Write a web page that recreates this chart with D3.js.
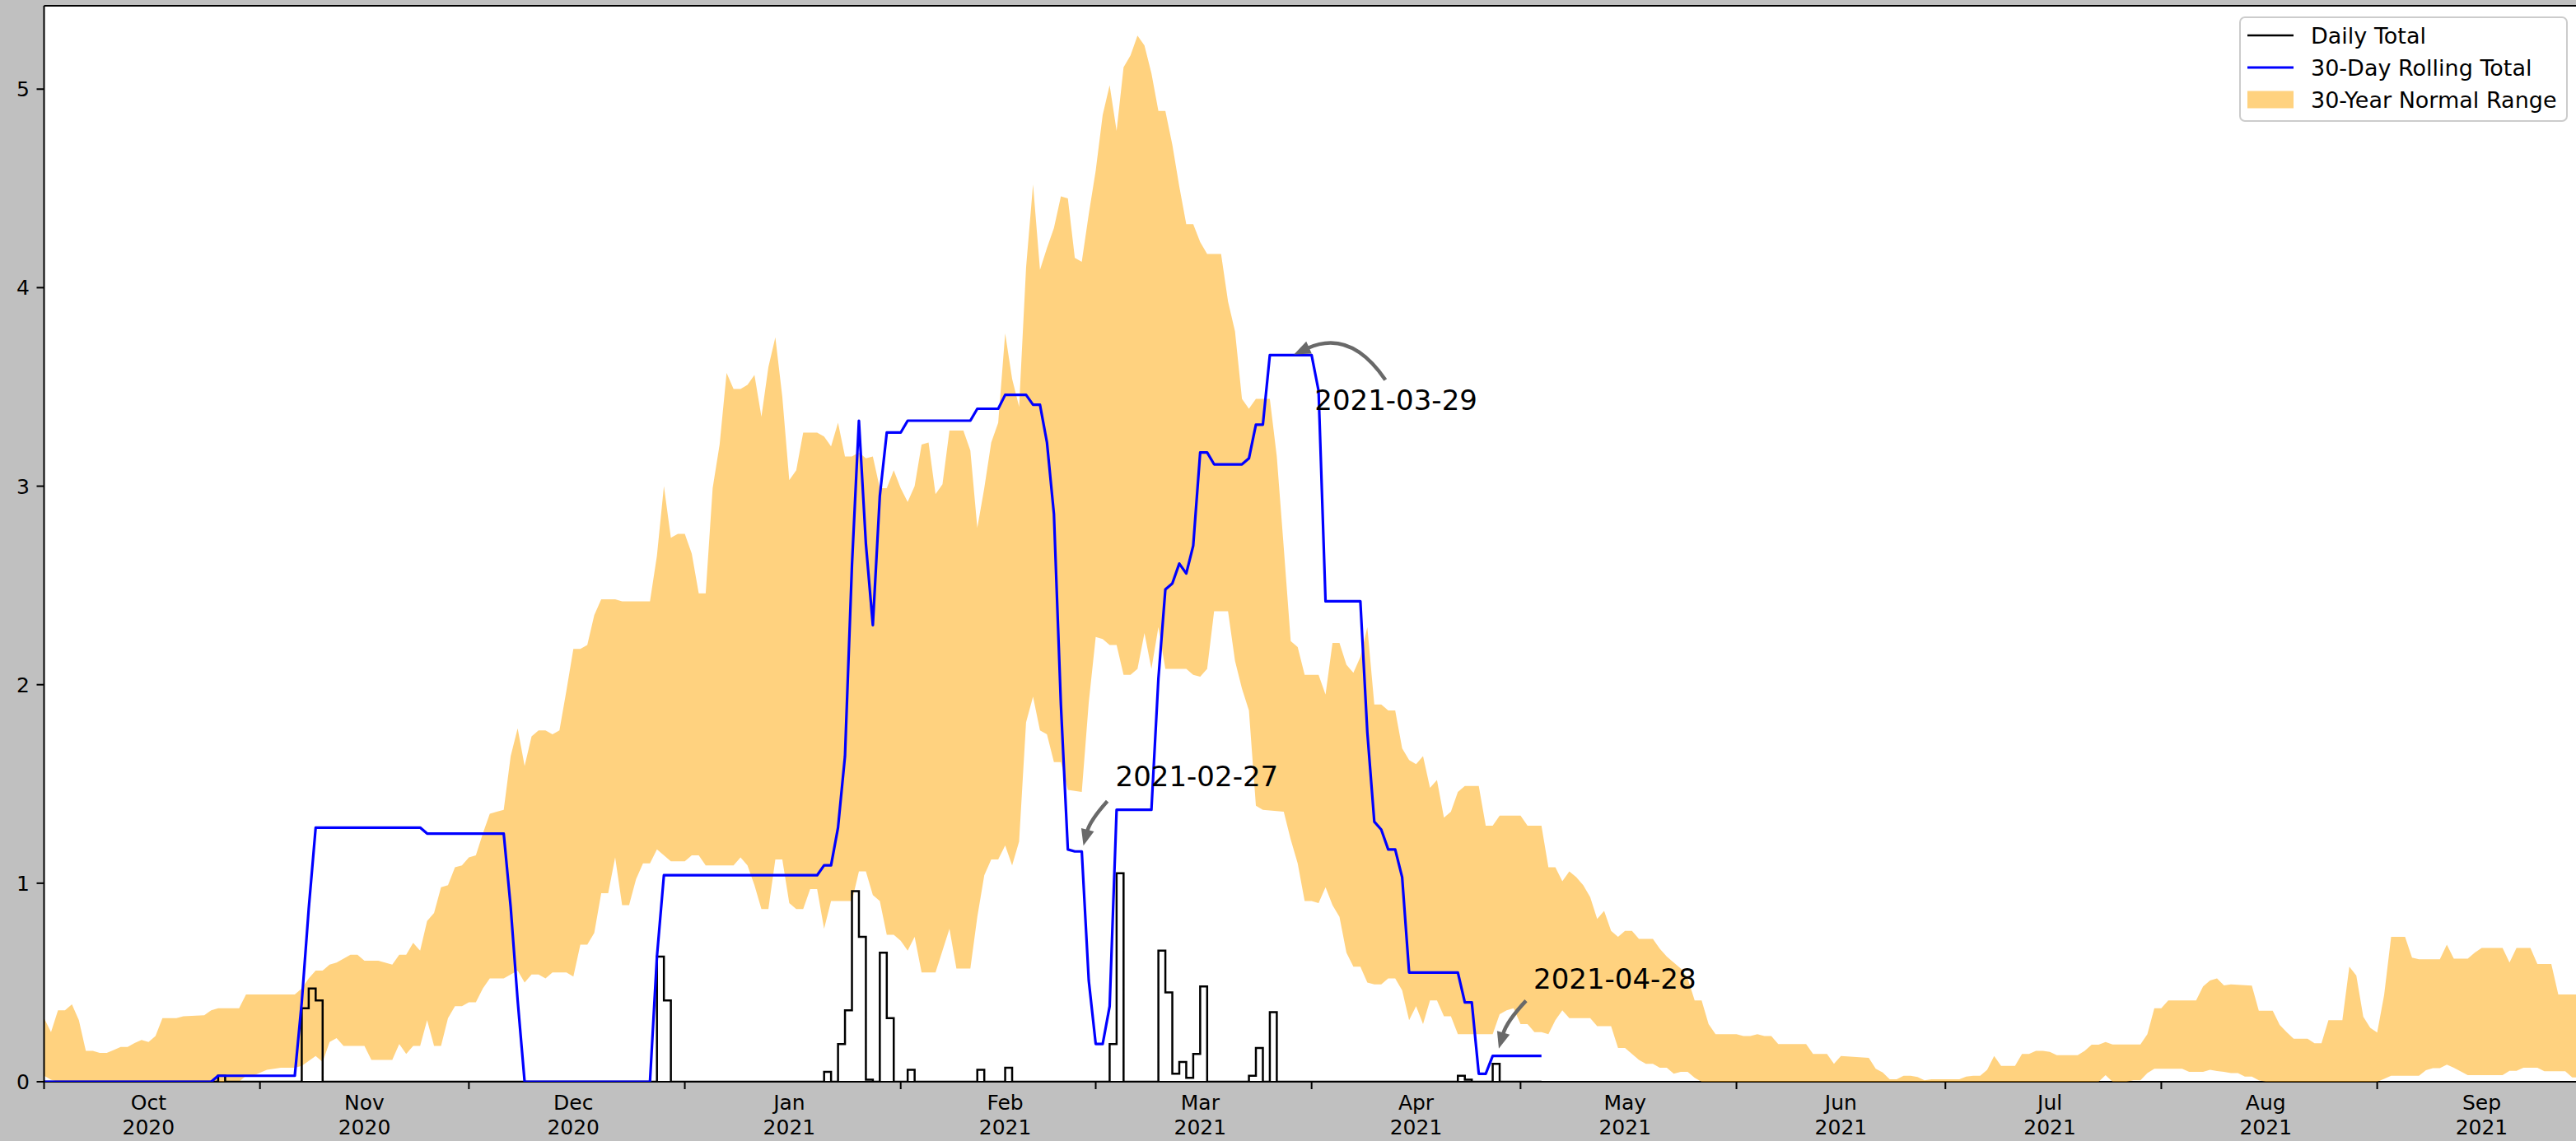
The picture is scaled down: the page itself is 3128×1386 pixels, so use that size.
<!DOCTYPE html>
<html><head><meta charset="utf-8">
<script src="https://cdn.jsdelivr.net/npm/d3@7"></script>
<style>html,body{margin:0;padding:0;background:#c0c0c0;overflow:hidden}</style>
</head><body>
<svg id="chart" width="3128" height="1386"></svg>
<script>
// ---------------- DATA ----------------
const startDate = "2020-10-01";           // day index 0
const endDate = "2021-10-01";
const monthTicks = ["2020-10-01","2020-11-01","2020-12-01","2021-01-01","2021-02-01","2021-03-01",
  "2021-04-01","2021-05-01","2021-06-01","2021-07-01","2021-08-01","2021-09-01","2021-10-01"];
const monthNames = ["Oct","Nov","Dec","Jan","Feb","Mar","Apr","May","Jun","Jul","Aug","Sep"];
const monthYears = ["2020","2020","2020","2021","2021","2021","2021","2021","2021","2021","2021","2021"];
const yTicks = [0,1,2,3,4,5];

// 30-year normal range, upper edge (day index, inches)
const upperDay = [0,1,2,3,4,5,6,7,8,9,10,11,12,13,14,15,16,17,19,20,23,24,25,28,29,36,37,38,39,40,41,42,44,45,46,48,50,51,52,53,54,55,56,57,58,59,60,61,62,63,64,65,66,67,68,69,70,71,72,73,74,75,76,77,78,79,80,82,83,87,88,89,90,91,92,93,94,95,96,97,98,99,100,101,102,103,104,105,106,107,108,109,111,112,113,114,115,116,117,118,119,120,121,122,123,124,125,126,127,128,129,130,132,133,134,135,136,137,138,139,140,141,142,143,144,145,146,147,148,149,150,151,152,153,154,155,156,157,158,159,160,161,162,163,164,165,166,167,169,170,171,172,173,174,176,177,178,179,180,181,183,184,185,186,187,188,189,190,191,192,193,194,195,196,197,198,199,200,201,202,203,204,206,207,208,209,212,213,215,216,217,218,219,220,221,222,223,224,225,226,227,228,229,231,232,233,234,235,236,237,238,239,240,243,244,245,246,247,248,249,253,254,256,257,258,262,263,264,265,266,267,268,269,270,271,275,276,277,278,279,280,281,283,284,285,286,287,288,289,292,293,294,295,296,297,301,302,303,304,305,309,310,311,312,313,314,317,318,320,321,322,323,325,326,327,328,330,331,332,333,334,335,336,337,339,340,341,344,345,346,348,349,350,353,354,355,357,358,360,361,364];
const upperValue = [0.32,0.25,0.36,0.36,0.39,0.31,0.155,0.155,0.145,0.145,0.16,0.175,0.175,0.195,0.21,0.20,0.23,0.32,0.32,0.33,0.335,0.36,0.37,0.37,0.44,0.44,0.47,0.52,0.56,0.56,0.59,0.60,0.64,0.64,0.61,0.61,0.59,0.64,0.64,0.70,0.66,0.81,0.85,0.98,0.99,1.08,1.09,1.13,1.14,1.25,1.35,1.36,1.37,1.64,1.78,1.59,1.74,1.77,1.77,1.75,1.77,1.97,2.18,2.18,2.20,2.35,2.43,2.43,2.42,2.42,2.65,3.00,2.74,2.76,2.76,2.66,2.46,2.46,2.99,3.21,3.57,3.49,3.49,3.51,3.56,3.35,3.60,3.75,3.45,3.03,3.08,3.27,3.27,3.25,3.20,3.32,3.15,3.15,3.17,3.14,3.15,2.99,2.99,3.08,2.99,2.92,3.00,3.21,3.22,2.96,3.01,3.28,3.28,3.18,2.79,2.99,3.22,3.32,3.77,3.54,3.40,4.10,4.52,4.09,4.20,4.30,4.46,4.45,4.15,4.13,4.37,4.59,4.87,5.02,4.79,5.11,5.17,5.27,5.22,5.08,4.89,4.89,4.72,4.51,4.32,4.32,4.23,4.17,4.17,3.93,3.78,3.44,3.39,3.44,3.44,3.15,2.69,2.22,2.19,2.05,2.05,1.95,2.21,2.21,2.10,2.06,2.14,2.29,1.90,1.90,1.87,1.87,1.68,1.62,1.60,1.64,1.48,1.52,1.33,1.36,1.46,1.49,1.49,1.29,1.29,1.34,1.34,1.29,1.29,1.08,1.08,1.01,1.06,1.03,0.99,0.93,0.82,0.86,0.76,0.73,0.76,0.76,0.72,0.72,0.67,0.63,0.60,0.57,0.52,0.41,0.41,0.29,0.24,0.24,0.23,0.23,0.24,0.23,0.23,0.19,0.19,0.14,0.14,0.09,0.13,0.12,0.065,0.047,0.012,0.012,0.03,0.03,0.024,0.007,0.012,0.012,0.026,0.03,0.03,0.06,0.13,0.08,0.08,0.14,0.14,0.155,0.155,0.15,0.134,0.134,0.155,0.187,0.187,0.20,0.188,0.188,0.24,0.37,0.37,0.41,0.41,0.48,0.51,0.52,0.485,0.49,0.484,0.358,0.358,0.286,0.25,0.217,0.217,0.194,0.194,0.31,0.31,0.58,0.535,0.328,0.272,0.248,0.438,0.73,0.73,0.625,0.617,0.617,0.69,0.62,0.62,0.65,0.674,0.674,0.60,0.674,0.674,0.593,0.593,0.44,0.44];

// 30-year normal range, lower edge (day index, inches)
const lowerDay = [0,1,2,28,29,30,32,34,36,37,39,40,41,42,43,46,47,50,51,52,53,54,55,56,57,58,59,60,61,62,63,64,66,67,68,69,70,71,72,73,75,76,77,78,79,80,81,82,83,84,85,86,87,88,89,90,92,93,94,95,99,100,101,102,103,104,105,106,107,108,109,110,111,112,113,116,117,118,119,120,121,122,123,124,125,126,128,129,130,131,133,134,135,136,137,138,139,140,141,142,143,144,145,146,147,149,150,151,152,153,154,155,156,157,158,159,160,161,164,165,166,167,168,170,171,172,173,174,175,178,179,180,181,182,183,184,185,186,187,188,189,190,191,192,193,194,195,196,197,198,199,200,201,202,203,208,209,210,211,212,213,214,215,216,217,218,219,222,223,225,226,227,228,229,230,231,232,233,234,235,236,237,238,295,296,297,299,300,301,302,303,307,308,310,311,312,313,314,315,316,317,318,319,335,336,337,341,342,343,344,345,346,348,353,354,355,356,358,359,362,363,364];
const lowerValue = [0.03,0.01,0,0,0.03,0.03,0.06,0.07,0.07,0.08,0.13,0.10,0.20,0.22,0.18,0.18,0.11,0.11,0.19,0.14,0.18,0.18,0.31,0.18,0.18,0.32,0.38,0.38,0.40,0.40,0.47,0.52,0.52,0.54,0.56,0.50,0.54,0.54,0.52,0.55,0.55,0.53,0.69,0.69,0.75,0.95,0.95,1.13,0.89,0.89,1.02,1.10,1.10,1.17,1.14,1.11,1.11,1.14,1.14,1.09,1.09,1.13,1.09,0.99,0.87,0.87,1.12,1.12,0.90,0.87,0.87,0.97,0.97,0.77,0.91,0.91,1.06,1.06,0.94,0.91,0.74,0.74,0.71,0.66,0.73,0.55,0.55,0.66,0.77,0.57,0.57,0.83,1.04,1.12,1.12,1.19,1.09,1.21,1.81,1.94,1.77,1.75,1.61,1.61,1.47,1.46,1.91,2.24,2.23,2.20,2.20,2.05,2.05,2.08,2.26,2.08,2.29,2.08,2.08,2.05,2.04,2.08,2.37,2.37,2.12,1.98,1.87,1.39,1.37,1.36,1.22,1.10,0.91,0.91,0.90,0.98,0.89,0.83,0.65,0.58,0.58,0.50,0.49,0.49,0.52,0.52,0.46,0.31,0.38,0.29,0.41,0.41,0.33,0.33,0.24,0.24,0.34,0.36,0.37,0.29,0.29,0.25,0.25,0.24,0.31,0.36,0.32,0.32,0.28,0.28,0.17,0.17,0.14,0.11,0.09,0.09,0.07,0.07,0.04,0.05,0.05,0.02,0,0,0.033,0,0,0.007,0.007,0.044,0.065,0.065,0.05,0.05,0.06,0.054,0.05,0.044,0.044,0.026,0.026,0.007,0,0,0.014,0.03,0.03,0.058,0.068,0.068,0.086,0.07,0.033,0.033,0.055,0.055,0.07,0.07,0.053,0.053,0.022,0.022];

// 30-day rolling total (day index, inches)
const rollingDay = [0,24,25,36,37,38,39,54,55,66,67,68,69,87,88,89,111,112,113,114,115,116,117,118,119,120,121,123,124,133,134,137,138,141,142,143,144,145,146,147,148,149,150,151,152,153,154,159,160,161,162,163,164,165,166,167,168,172,173,174,175,176,182,183,184,189,190,191,192,193,194,195,196,203,204,205,206,207,208,215];
const rollingValue = [0,0,0.03,0.03,0.40,0.87,1.28,1.28,1.25,1.25,0.88,0.41,0,0,0.63,1.04,1.04,1.09,1.09,1.28,1.64,2.60,3.33,2.71,2.30,2.95,3.27,3.27,3.33,3.33,3.39,3.39,3.46,3.46,3.41,3.41,3.22,2.86,1.90,1.17,1.16,1.16,0.51,0.19,0.19,0.38,1.37,1.37,2.03,2.48,2.51,2.61,2.56,2.70,3.17,3.17,3.11,3.11,3.14,3.31,3.31,3.66,3.66,3.48,2.42,2.42,1.76,1.31,1.27,1.17,1.17,1.03,0.55,0.55,0.40,0.40,0.04,0.04,0.13,0.13];

// daily total, held until the next listed day (day index, inches)
const dailyDay = [0,25,26,37,38,39,40,88,89,90,112,113,114,115,116,117,118,119,120,121,122,124,125,134,135,138,139,153,154,155,160,161,162,163,164,165,166,167,173,174,175,176,177,203,204,205,208,209,215];
const dailyValue = [0,0.03,0,0.37,0.47,0.41,0,0.63,0.41,0,0.05,0,0.19,0.36,0.96,0.73,0.01,0,0.65,0.32,0,0.06,0,0.06,0,0.07,0,0.19,1.05,0,0.66,0.45,0.04,0.10,0.02,0.14,0.48,0,0.03,0.17,0,0.35,0,0.03,0.01,0,0.09,0,0];

const annotationDates = ["2021-03-29","2021-02-27","2021-04-28"];
const legendLabels = ["Daily Total","30-Day Rolling Total","30-Year Normal Range"];

// ---------------- LAYOUT / STYLE ----------------
[["upper", upperDay, upperValue], ["lower", lowerDay, lowerValue], ["rolling", rollingDay, rollingValue], ["daily", dailyDay, dailyValue]]
  .forEach(([n, a, b]) => { if (a.length !== b.length) throw new Error(n + " length mismatch " + a.length + " vs " + b.length); });

const FONT = "DejaVu Sans";
const plotLeft = 53.5, plotTop = 7, plotBottom = 1314, pxPerDay = 8.457;
const svg = d3.select("#chart");
const parse = d3.utcParse("%Y-%m-%d");
const t0 = parse(startDate);
const dayDate = d => d3.utcDay.offset(t0, d);

const x = d3.scaleUtc().domain([t0, parse(endDate)]).range([plotLeft, plotLeft + 365 * pxPerDay]);
const y = d3.scaleLinear().domain([0, 5.42]).range([plotBottom, plotTop]);
const plotRight = x.range()[1];

svg.append("rect").attr("width", 3128).attr("height", 1386).attr("fill", "#c0c0c0");
svg.append("rect").attr("x", plotLeft).attr("y", plotTop).attr("width", plotRight - plotLeft).attr("height", plotBottom - plotTop).attr("fill", "#fff");

svg.append("clipPath").attr("id", "clip").append("rect")
  .attr("x", plotLeft).attr("y", plotTop).attr("width", plotRight - plotLeft).attr("height", plotBottom - plotTop);

// bottom spine under data
svg.append("line").attr("x1", plotLeft).attr("x2", plotRight).attr("y1", plotBottom).attr("y2", plotBottom)
  .attr("stroke", "#000").attr("stroke-width", 2);

const plot = svg.append("g").attr("clip-path", "url(#clip)");

// normal range band
const upperPts = upperDay.map((d, i) => ({date: dayDate(d), v: upperValue[i]}));
const lowerPts = lowerDay.map((d, i) => ({date: dayDate(d), v: lowerValue[i]}));
const bandLine = d3.line().x(p => x(p.date)).y(p => y(p.v));
plot.append("path")
  .attr("d", bandLine(upperPts.concat(lowerPts.slice().reverse())) + "Z")
  .attr("fill", "orange").attr("fill-opacity", 0.5).attr("stroke", "none");

// daily total (steps)
const dailyPts = dailyDay.map((d, i) => ({date: dayDate(d), v: dailyValue[i]}));
plot.append("path")
  .attr("d", d3.line().curve(d3.curveStepAfter).x(p => x(p.date)).y(p => y(p.v))(dailyPts))
  .attr("fill", "none").attr("stroke", "#000").attr("stroke-width", 2.5).attr("stroke-linejoin", "miter");

// rolling total
const rollingPts = rollingDay.map((d, i) => ({date: dayDate(d), v: rollingValue[i]}));
plot.append("path")
  .attr("d", d3.line().x(p => x(p.date)).y(p => y(p.v))(rollingPts))
  .attr("fill", "none").attr("stroke", "#0000ff").attr("stroke-width", 3.2).attr("stroke-linejoin", "round");

// left & top spines
svg.append("line").attr("x1", plotLeft).attr("x2", plotLeft).attr("y1", plotTop).attr("y2", plotBottom + 1)
  .attr("stroke", "#000").attr("stroke-width", 2);
svg.append("line").attr("x1", plotLeft).attr("x2", plotRight).attr("y1", plotTop).attr("y2", plotTop)
  .attr("stroke", "#000").attr("stroke-width", 2);

// x axis: major ticks at month starts, labels mid-month
const xg = svg.append("g");
monthTicks.forEach(t => {
  const xx = x(parse(t));
  xg.append("line").attr("x1", xx).attr("x2", xx).attr("y1", plotBottom).attr("y2", plotBottom + 9)
    .attr("stroke", "#000").attr("stroke-width", 2);
});
monthNames.forEach((m, i) => {
  const xx = x(d3.utcDay.offset(parse(monthTicks[i]), 15));
  const tx = xg.append("text").attr("font-family", FONT).attr("font-size", 25).attr("text-anchor", "middle").attr("fill", "#000");
  tx.append("tspan").attr("x", xx).attr("y", 1348).text(m);
  tx.append("tspan").attr("x", xx).attr("y", 1377.5).text(monthYears[i]);
});

// y axis
const yg = svg.append("g");
yTicks.forEach(v => {
  yg.append("line").attr("x1", plotLeft - 9).attr("x2", plotLeft).attr("y1", y(v)).attr("y2", y(v))
    .attr("stroke", "#000").attr("stroke-width", 2);
  yg.append("text").attr("x", 36).attr("y", y(v) + 9).attr("text-anchor", "end")
    .attr("font-family", FONT).attr("font-size", 25).attr("fill", "#000").text(v);
});

// annotations (offsets in px relative to the annotated point)
const annLayout = [
  {text: [29, 67], tail: [115, 30], tip: [4, -1], rad: 0.42},
  {text: [41, -79], tail: [31, -61], tip: [2, -7], rad: 0.12},
  {text: [41, -82], tail: [32, -67], tip: [-1, -9], rad: 0.12}
];
const ag = svg.append("g");
annotationDates.forEach((ds, i) => {
  const dt = parse(ds);
  const di = d3.utcDay.count(t0, dt);
  const j = d3.bisectRight(rollingDay, di) - 1;
  const v = rollingValue[j];
  const px = x(dt), py = y(v);
  const L = annLayout[i];
  const tail = [px + L.tail[0], py + L.tail[1]];
  const tip = [px + L.tip[0], py + L.tip[1]];
  const mx = (tail[0] + tip[0]) / 2, my = (tail[1] + tip[1]) / 2;
  const dx = tip[0] - tail[0], dy = tip[1] - tail[1];
  const c = [mx - L.rad * dy, my + L.rad * dx];
  let ux = tip[0] - c[0], uy = tip[1] - c[1];
  const n = Math.hypot(ux, uy); ux /= n; uy /= n;
  const hl = 20, hw = 8;
  const base = [tip[0] - ux * hl, tip[1] - uy * hl];
  const p = d3.path();
  p.moveTo(tail[0], tail[1]);
  p.quadraticCurveTo(c[0], c[1], base[0] + ux * 2, base[1] + uy * 2);
  ag.append("path").attr("d", p.toString()).attr("fill", "none")
    .attr("stroke", "#696969").attr("stroke-width", 4.5);
  const h = d3.path();
  h.moveTo(tip[0], tip[1]);
  h.lineTo(base[0] - uy * hw, base[1] + ux * hw);
  h.lineTo(base[0] + uy * hw, base[1] - ux * hw);
  h.closePath();
  ag.append("path").attr("d", h.toString()).attr("fill", "#696969");
  ag.append("text").attr("x", px + L.text[0]).attr("y", py + L.text[1])
    .attr("font-family", FONT).attr("font-size", 34).attr("fill", "#000").text(ds);
});

// legend
const lg = svg.append("g");
lg.append("rect").attr("x", 2720).attr("y", 21).attr("width", 397).attr("height", 126).attr("rx", 6)
  .attr("fill", "#fff").attr("fill-opacity", 0.8).attr("stroke", "#cccccc").attr("stroke-width", 2);
const rowY = [43, 82, 121];
lg.append("line").attr("x1", 2729).attr("x2", 2785).attr("y1", rowY[0]).attr("y2", rowY[0])
  .attr("stroke", "#000").attr("stroke-width", 2.5);
lg.append("line").attr("x1", 2729).attr("x2", 2785).attr("y1", rowY[1]).attr("y2", rowY[1])
  .attr("stroke", "#0000ff").attr("stroke-width", 3.2);
lg.append("rect").attr("x", 2729).attr("y", rowY[2] - 10.5).attr("width", 56).attr("height", 21)
  .attr("fill", "orange").attr("fill-opacity", 0.5);
legendLabels.forEach((t, i) => {
  lg.append("text").attr("x", 2806).attr("y", rowY[i] + 10).attr("font-family", FONT)
    .attr("font-size", 27).attr("fill", "#000").text(t);
});
</script>
</body></html>
